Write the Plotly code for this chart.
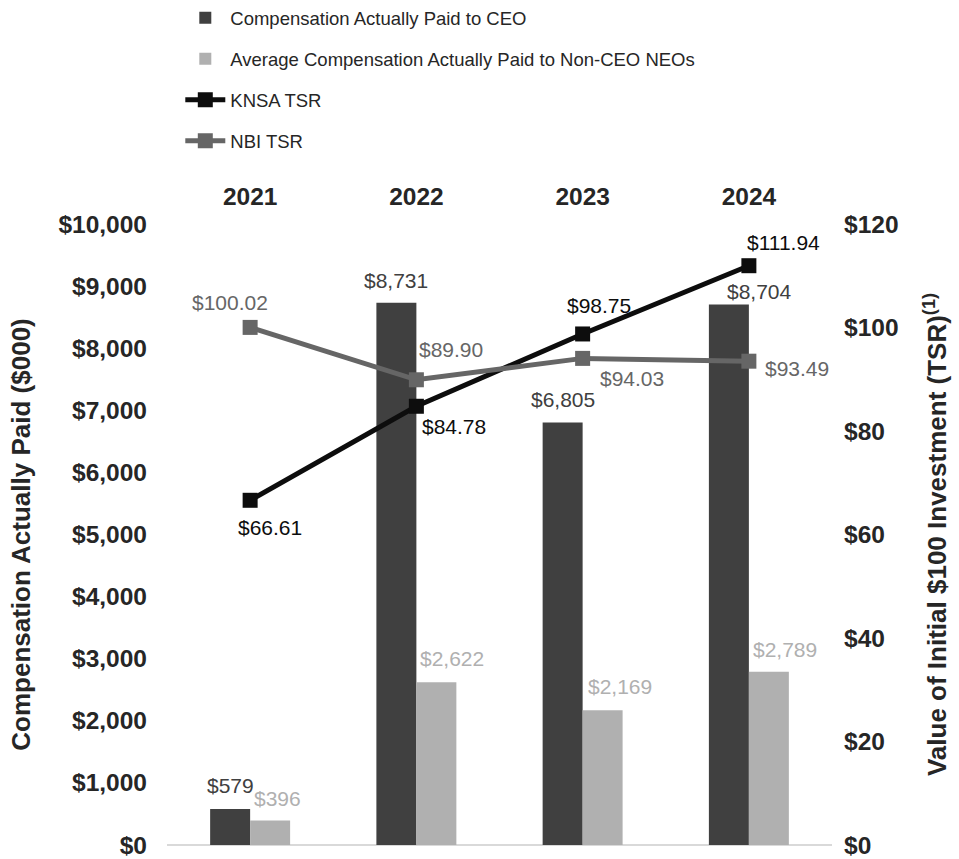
import plotly.graph_objects as go

years = ["2021", "2022", "2023", "2024"]
ceo_cap = [579, 8731, 6805, 8704]
neo_cap = [396, 2622, 2169, 2789]
knsa_tsr = [66.61, 84.78, 98.75, 111.94]
nbi_tsr = [100.02, 89.90, 94.03, 93.49]

ceo_labels = ["$579", "$8,731", "$6,805", "$8,704"]
neo_labels = ["$396", "$2,622", "$2,169", "$2,789"]
knsa_labels = ["$66.61", "$84.78", "$98.75", "$111.94"]
nbi_labels = ["$100.02", "$89.90", "$94.03", "$93.49"]

# label offsets (pixels) relative to each mark
ceo_off = [(0, 24), (0, 22), (0, 23), (31, 13)]
neo_off = [(7, 22), (16, 24), (17, 24), (16, 22)]
knsa_off = [(20, -27), (38, -20), (16, 28), (35, 23)]
nbi_off = [(-20, 25), (35, 30), (49, -20), (48, -7)]

C_CEO = "#404040"
C_NEO = "#b0b0b0"
C_KNSA = "#0d0d0d"
C_NBI = "#666666"

BASE = "Liberation Sans, Arial, sans-serif"

fig = go.Figure()
fig.add_trace(go.Bar(x=years, y=ceo_cap, name="Compensation Actually Paid to CEO",
                     marker=dict(color=C_CEO, line=dict(width=0)), legendgroup="a"))
fig.add_trace(go.Bar(x=years, y=neo_cap, name="Average Compensation Actually Paid to Non-CEO NEOs",
                     marker=dict(color=C_NEO, line=dict(width=0)), legendgroup="b"))
fig.add_trace(go.Scatter(x=years, y=knsa_tsr, name="KNSA TSR", yaxis="y2", mode="lines+markers",
                         line=dict(color=C_KNSA, width=5),
                         marker=dict(symbol="square", size=15, color=C_KNSA), legendgroup="c"))
fig.add_trace(go.Scatter(x=years, y=nbi_tsr, name="NBI TSR", yaxis="y2", mode="lines+markers",
                         line=dict(color=C_NBI, width=5),
                         marker=dict(symbol="square", size=15, color=C_NBI), legendgroup="d"))

LBL = 21
ann = []
for i, yr in enumerate(years):
    dx, dy = ceo_off[i]
    ann.append(dict(x=i, y=ceo_cap[i], xref="x", yref="y", text=ceo_labels[i], showarrow=False,
                    xshift=-20 + dx, yshift=dy, font=dict(family=BASE, size=LBL, color=C_CEO)))
    dx, dy = neo_off[i]
    ann.append(dict(x=i, y=neo_cap[i], xref="x", yref="y", text=neo_labels[i], showarrow=False,
                    xshift=20 + dx, yshift=dy, font=dict(family=BASE, size=LBL, color=C_NEO)))
    dx, dy = knsa_off[i]
    ann.append(dict(x=i, y=knsa_tsr[i], xref="x", yref="y2", text=knsa_labels[i], showarrow=False,
                    xshift=dx, yshift=dy, font=dict(family=BASE, size=LBL, color=C_KNSA)))
    dx, dy = nbi_off[i]
    ann.append(dict(x=i, y=nbi_tsr[i], xref="x", yref="y2", text=nbi_labels[i], showarrow=False,
                    xshift=dx, yshift=dy, font=dict(family=BASE, size=LBL, color=C_NBI)))

TICK = dict(family=BASE, size=24.5, color="#262626", weight="bold")
TITLE = dict(family=BASE, size=26, color="#262626", weight="bold")

fig.update_layout(
    width=959, height=859,
    margin=dict(l=167, r=127, t=224, b=14, autoexpand=False),
    paper_bgcolor="white", plot_bgcolor="white",
    barmode="group", bargap=0.519, bargroupgap=0,
    annotations=ann,
    xaxis=dict(type="category", side="top", range=[-0.5, 3.5], showgrid=False, zeroline=False,
               showline=False, ticks="outside", ticklen=8, tickcolor="rgba(0,0,0,0)", tickfont=TICK),
    yaxis=dict(range=[0, 10000], dtick=1000, tickprefix="$", tickformat=",", showgrid=False,
               zeroline=True, zerolinecolor="#d9d9d9", zerolinewidth=2, showline=False,
               ticks="", ticklabelstandoff=19, tickfont=TICK,
               title=dict(text="Compensation Actually Paid ($000)", standoff=20, font=TITLE)),
    yaxis2=dict(range=[0, 120], dtick=20, tickprefix="$", overlaying="y", side="right",
                showgrid=False, zeroline=False, showline=False, ticks="", ticklabelstandoff=11,
                tickfont=TICK,
                title=dict(text="Value of Initial $100 Investment (TSR)<sup>(1)</sup>", standoff=30,
                           font=TITLE)),
    legend=dict(orientation="v", x=0.02, xanchor="left", y=1.362, yanchor="top",
                traceorder="grouped", tracegroupgap=14, itemwidth=40,
                font=dict(family=BASE, size=18.5, color="#262626"),
                bgcolor="rgba(0,0,0,0)"),
)

fig.write_html("out.html")
